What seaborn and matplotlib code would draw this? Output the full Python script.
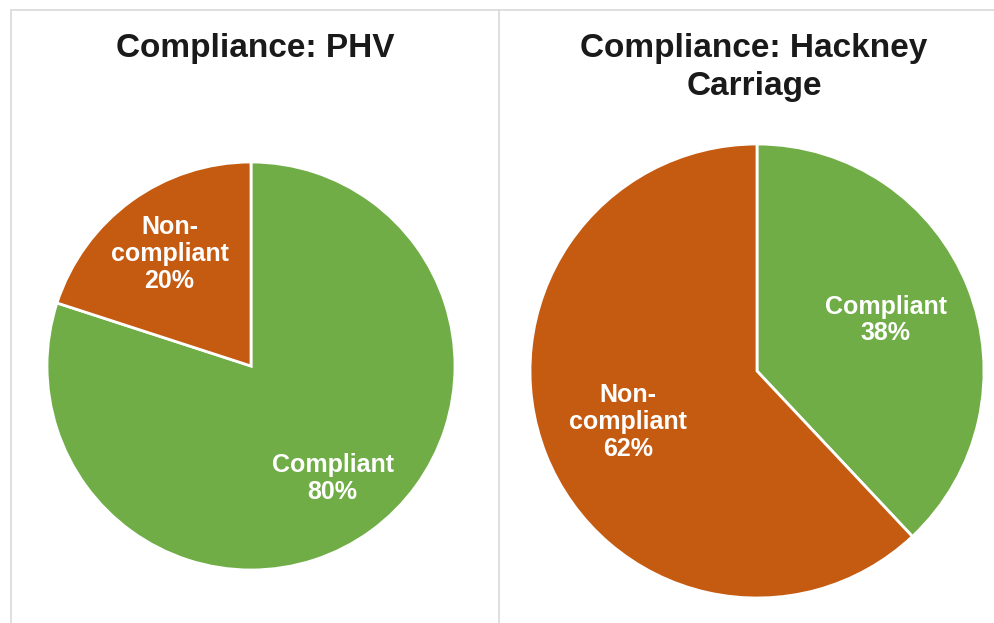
import matplotlib
matplotlib.use('Agg')
from matplotlib import pyplot as plt
from matplotlib.lines import Line2D
import seaborn as sns

# data
phv_labels = ['Compliant', 'Non-\ncompliant']
phv_values = [80, 20]
hackney_labels = ['Compliant', 'Non-\ncompliant']
hackney_values = [38, 62]
slice_colors = ['#70AD47', '#C55A11']

sns.set_style('white')
plt.rcParams['font.family'] = ['Liberation Sans', 'DejaVu Sans']

fig = plt.figure(figsize=(9.95, 6.23), dpi=100)
W, H = 995, 623


def px_axes(cx, cy, r):
    # axes box around a pie centred at pixel (cx, cy) with radius r
    return fig.add_axes([(cx - r) / W, (H - cy - r) / H, 2 * r / W, 2 * r / H])


def draw_pie(ax, values, labels, dist):
    texts = [f'{l}\n{v}%' for l, v in zip(labels, values)]
    wedges, txt = ax.pie(values, labels=texts, colors=slice_colors, startangle=90,
                         counterclock=False, labeldistance=dist, radius=1,
                         wedgeprops=dict(edgecolor='white', linewidth=2))
    for t in txt:
        t.set_ha('center')
        t.set_va('center')
        t.set_multialignment('center')
        t.set_color('white')
        t.set_fontweight('bold')
        t.set_fontsize(18)
        t.set_linespacing(1.15)
    ax.set_xlim(-1, 1)
    ax.set_ylim(-1, 1)
    ax.set_aspect('auto')
    ax.axis('off')


ax1 = px_axes(251, 366, 204)
draw_pie(ax1, phv_values, phv_labels, 0.68)
ax2 = px_axes(757, 371, 227)
draw_pie(ax2, hackney_values, hackney_labels, 0.61)

title_kw = dict(ha='center', va='baseline', fontsize=24, fontweight='bold', color='#1a1a1a')
fig.text(255 / W, 1 - 57 / H, 'Compliance: PHV', **title_kw)
fig.text(754 / W, 1 - 57 / H, 'Compliance: Hackney', **title_kw)
fig.text(754 / W, 1 - 95 / H, 'Carriage', **title_kw)

# panel borders
border = '#d9d9d9'
fig.add_artist(Line2D([11 / W, 1], [1 - 10 / H, 1 - 10 / H], color=border, lw=1.2))
fig.add_artist(Line2D([11 / W, 11 / W], [0, 1 - 10 / H], color=border, lw=1.2))
fig.add_artist(Line2D([499 / W, 499 / W], [0, 1 - 10 / H], color=border, lw=1.2))

fig.savefig('out.png', dpi=100, facecolor='white')
